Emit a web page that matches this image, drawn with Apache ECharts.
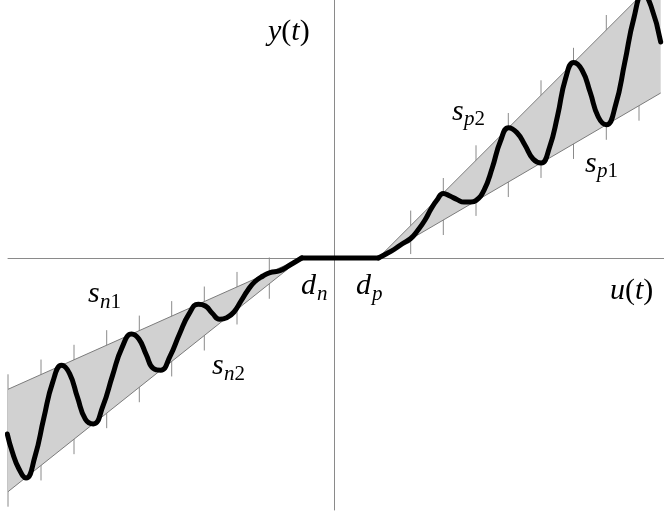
<!DOCTYPE html>
<html>
<head>
<meta charset="utf-8">
<script src="https://cdn.jsdelivr.net/npm/echarts@6/dist/echarts.min.js"></script>
<style>html,body{margin:0;padding:0;background:#fff}#c{width:664px;height:516px}</style>
</head>
<body>
<div id="c"></div>
<script>
// ---- data (units: input u on x, output y on y; origin at axis crossing) ----
const dn = -32.3;            // negative dead-zone limit
const dp = 44.3;             // positive dead-zone limit
const xEdgeLeft = -326;      // left end of negative sector
const xEdgeRight = 326.7;    // right end of positive sector

// sector boundary lines
const sp2Line = [[dp, 0], [xEdgeRight, 282.4]];   // upper slope, positive side
const sp1Line = [[dp, 0], [xEdgeRight, 165]];     // lower slope, positive side
const sn1Line = [[dn, 0], [xEdgeLeft, -131.3]];   // upper slope, negative side
const sn2Line = [[dn, 0], [xEdgeLeft, -233.7]];   // lower slope, negative side

// sample markers along each sector (x positions)
const tickXRight = [76.7, 109.3, 142, 174.3, 207, 239.5, 272.3, 305];
const tickXLeft = [-326, -293, -260, -227.3, -194.7, -162.3, -129.7, -97, -64.7];
const tickOvershoot = 15;

// dead zone
const deadZone = [[dn, 0], [dp, 0]];

// output trajectory, negative side
const waveLeft = [
  [-326.7, -176], [-322, -193], [-315, -211], [-308, -220],
  [-299.1, -198.8], [-290.2, -160.2], [-281.2, -123.9], [-272.3, -107.3],
  [-264.4, -115.6], [-256.5, -139.4], [-248.6, -161.2], [-240.7, -165.9],
  [-231.1, -148.1], [-221.5, -117.6], [-211.9, -89.4], [-202.3, -76],
  [-195.1, -81], [-187.8, -96.6], [-180.6, -110.5], [-173.3, -112.2],
  [-163.9, -98.1], [-154.5, -76], [-145.1, -56.2], [-135.7, -46.2],
  [-128.6, -48], [-121.5, -55.5], [-114.4, -61.2], [-107.3, -59.7],
  [-100, -54], [-93, -43], [-86, -32], [-79, -23.5], [-71, -18],
  [-64, -14.7], [-54, -12.7], [-44, -7], [-32.3, 0]
];
// output trajectory, positive side
const waveRight = [
  [44.3, 0], [52, 4], [60, 8.5], [68, 14], [76.7, 19.5], [84, 28], [91, 38],
  [97, 49], [103, 58], [109.3, 64.5], [116, 62], [123, 58.5], [130, 56],
  [137, 56], [142, 57.5], [150.2, 68.2], [158.3, 90.3], [166.5, 117],
  [174.6, 130.3], [182.8, 125.5], [190.9, 113], [199.1, 99], [207.2, 95.1],
  [215.4, 110.3], [223.5, 141.9], [231.7, 180], [239.8, 195.5], [248, 188],
  [256.1, 166], [264.3, 141], [272.4, 133.2], [281.6, 153], [290.7, 195.2],
  [299.9, 240], [309, 264.7], [317, 252], [326.7, 216]
];

// ---- derived geometry ----
function interp(line, x) {
  const [a, b] = line;
  return a[1] + (b[1] - a[1]) * (x - a[0]) / (b[0] - a[0]);
}
const wedges = [
  [sp2Line[0], sp2Line[1], sp1Line[1]],
  [sn1Line[0], sn1Line[1], sn2Line[1]]
];
const ticks = [];
tickXRight.forEach(x => ticks.push([x, interp(sp1Line, x) - tickOvershoot, interp(sp2Line, x) + tickOvershoot]));
tickXLeft.forEach(x => ticks.push([x, interp(sn2Line, x) - tickOvershoot, interp(sn1Line, x) + tickOvershoot]));

const chart = echarts.init(document.getElementById('c'), null, {renderer: 'canvas'});

const GRAY = '#8a8a8a';
const FONT = '"Liberation Serif", "Times New Roman", serif';
function txt(x, y, rich, size) {
  return {
    type: 'text', x: x, y: y, z: 100,
    style: {
      text: rich, fill: '#000', verticalAlign: 'middle', align: 'left',
      rich: {
        i: {fontFamily: FONT, fontStyle: 'italic', fontSize: size, fill: '#000'},
        r: {fontFamily: FONT, fontStyle: 'normal', fontSize: size, fill: '#000'}
      }
    }
  };
}
const MAIN = 30, SUB = 21;
const graphics = [
  txt(268, 32, '{i|y}{r|(}{i|t}{r|)}', MAIN),
  txt(610, 291, '{i|u}{r|(}{i|t}{r|)}', MAIN),
  txt(452, 112, '{i|s}', MAIN), txt(464, 119, '{i|p}{r|2}', SUB),
  txt(585, 164, '{i|s}', MAIN), txt(597, 171, '{i|p}{r|1}', SUB),
  txt(88, 294, '{i|s}', MAIN), txt(100, 302, '{i|n}{r|1}', SUB),
  txt(212, 366, '{i|s}', MAIN), txt(224, 374, '{i|n}{r|2}', SUB),
  txt(301, 286, '{i|d}', MAIN), txt(317, 294, '{i|n}', SUB),
  txt(356, 286, '{i|d}', MAIN), txt(372, 294, '{i|p}', SUB)
];

function edgeSeries(data) {
  return {
    type: 'line', data: data, symbol: 'none', z: 3, silent: true,
    lineStyle: {color: '#7c7c7c', width: 1}
  };
}
function waveSeries(data) {
  return {
    type: 'line', data: data, symbol: 'none', smooth: 0.5, z: 5, silent: true,
    lineStyle: {color: '#000', width: 5, cap: 'round', join: 'round'}
  };
}

chart.setOption({
  animation: false,
  backgroundColor: '#fff',
  grid: {left: 8, right: 0, top: 0, bottom: 6, containLabel: false},
  xAxis: {
    type: 'value', min: xEdgeLeft, max: 330,
    axisLine: {show: true, onZero: true, lineStyle: {color: GRAY, width: 1}},
    axisTick: {show: false}, axisLabel: {show: false}, splitLine: {show: false}
  },
  yAxis: {
    type: 'value', min: -252, max: 258,
    axisLine: {show: true, onZero: true, lineStyle: {color: GRAY, width: 1}},
    axisTick: {show: false}, axisLabel: {show: false}, splitLine: {show: false}
  },
  graphic: graphics,
  series: [
    {
      type: 'custom', z: 1, silent: true,
      data: ticks.map(t => [t[0], t[1], t[2]]),
      encode: {x: 0, y: [1, 2]},
      renderItem: function (params, api) {
        const p1 = api.coord([api.value(0), api.value(1)]);
        const p2 = api.coord([api.value(0), api.value(2)]);
        return {type: 'line', shape: {x1: p1[0], y1: p1[1], x2: p2[0], y2: p2[1]},
                style: {stroke: GRAY, lineWidth: 1}};
      }
    },
    {
      type: 'custom', z: 2, silent: true,
      data: wedges.map((w, i) => [w[0][0], w[0][1], i]),
      encode: {x: 0, y: 1},
      renderItem: function (params, api) {
        const pts = wedges[params.dataIndex].map(p => api.coord(p));
        return {type: 'polygon', shape: {points: pts}, style: {fill: '#d1d1d1', stroke: null}};
      }
    },
    edgeSeries(sp2Line), edgeSeries(sp1Line), edgeSeries(sn1Line), edgeSeries(sn2Line),
    {
      type: 'line', data: deadZone, symbol: 'none', z: 5, silent: true,
      lineStyle: {color: '#000', width: 5, cap: 'round'}
    },
    waveSeries(waveLeft),
    waveSeries(waveRight)
  ]
});
</script>
</body>
</html>
